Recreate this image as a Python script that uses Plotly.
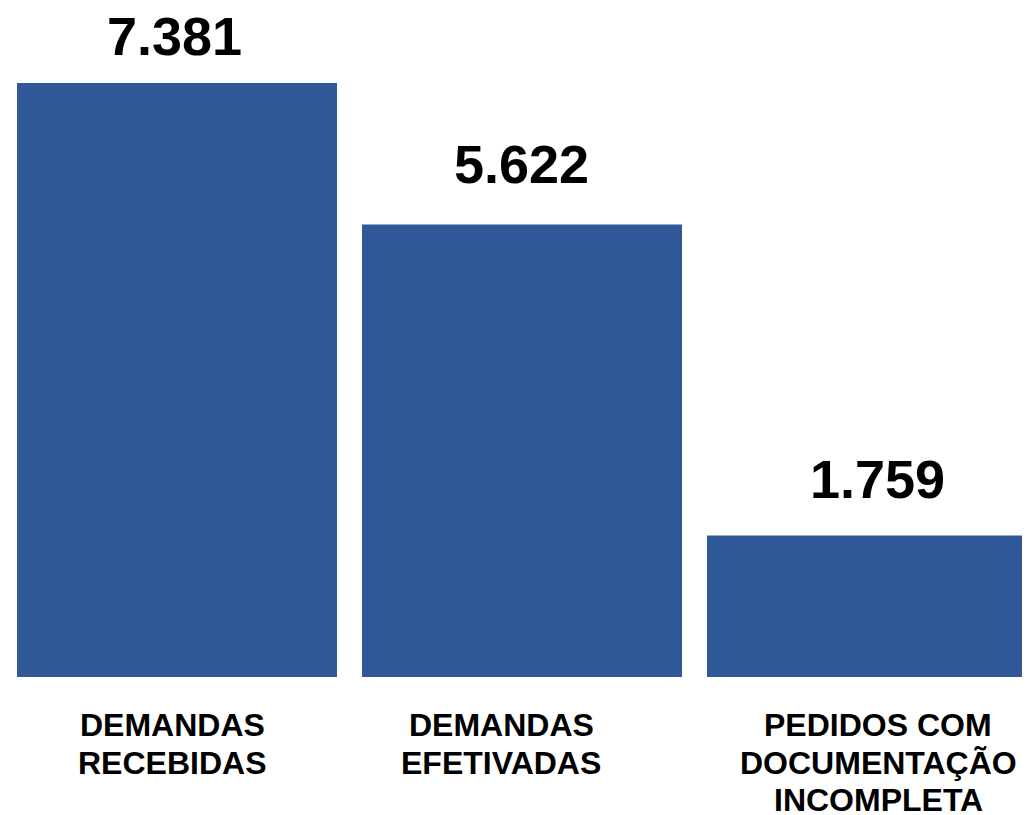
import plotly.graph_objects as go

categories = ["DEMANDAS<br>RECEBIDAS", "DEMANDAS<br>EFETIVADAS", "PEDIDOS COM<br>DOCUMENTAÇÃO<br>INCOMPLETA"]
values = [7381, 5622, 1759]
value_labels = ["7.381", "5.622", "1.759"]

BAR_COLOR = "#305798"
FONT = "Liberation Sans, Arial, sans-serif"
value_yshift = [15, 29, 24]
value_xshift = [-3, -1, 10]
label_xshift = [-5, -21, 11]

W, H = 1022, 807
C0 = 169          # pixel centre of first bar
PITCH = 345
BOTTOM = 669
SCALE = 7381 / 594

xs = list(range(len(categories)))
fig = go.Figure()
fig.add_trace(go.Bar(x=xs, y=values, marker=dict(color=BAR_COLOR, line=dict(width=0)),
                     hoverinfo="skip"))

annotations = []
for i, (v, lab) in enumerate(zip(values, value_labels)):
    annotations.append(dict(x=i, y=v, xref="x", yref="y", text=lab, showarrow=False,
                            yanchor="bottom", yshift=value_yshift[i], xshift=value_xshift[i],
                            font=dict(family=FONT, size=54, color="#000000", weight="bold")))
for i, cat in enumerate(categories):
    for j, line in enumerate(cat.split("<br>")):
        annotations.append(dict(x=i, y=0, xref="x", yref="y", text=line, showarrow=False,
                                yanchor="middle", yshift=-48 - 37.5 * j, xshift=label_xshift[i],
                                font=dict(family=FONT, size=32, color="#000000", weight="bold")))

fig.update_layout(
    width=W, height=H,
    margin=dict(l=0, r=0, t=0, b=H - BOTTOM, pad=0),
    paper_bgcolor="white", plot_bgcolor="white",
    bargap=1 - 320 / PITCH,
    showlegend=False,
    xaxis=dict(range=[-C0 / PITCH, (W - C0) / PITCH], visible=False, fixedrange=True),
    yaxis=dict(range=[0, BOTTOM * SCALE], visible=False, fixedrange=True),
    annotations=annotations,
)

fig.write_html("out.html")
